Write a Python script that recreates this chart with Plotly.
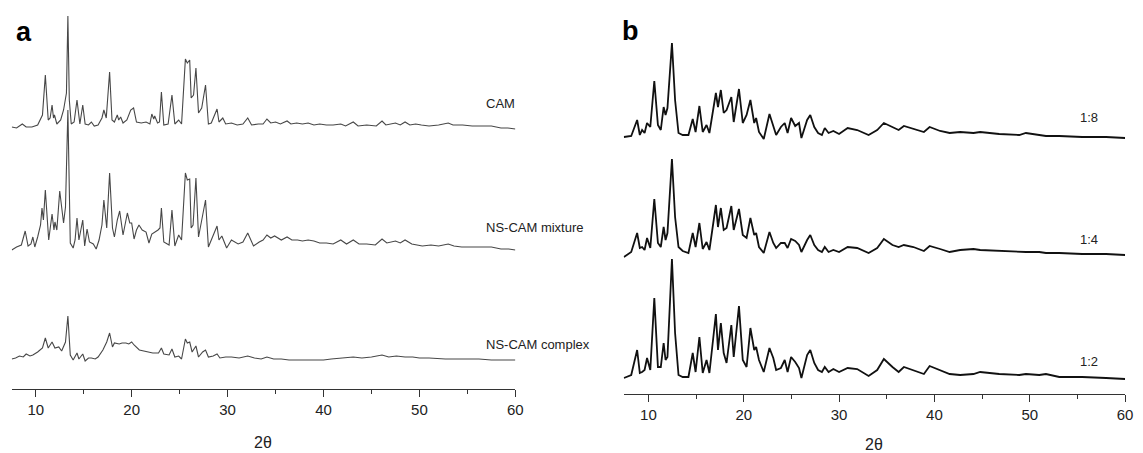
import plotly.graph_objects as go

W, H = 1143, 453

# ---------------- Panel a data (2θ, intensity a.u.) ----------------
cam_x = [7.5, 8.0, 8.6, 9.0, 9.6, 10.2, 10.7, 11.0, 11.3, 11.5, 11.7, 11.85, 11.95, 12.2, 12.6, 12.9,
         13.2, 13.35, 13.5, 13.7, 14.0, 14.3, 14.6, 14.9, 15.15, 15.5, 15.8, 16.1, 16.5, 16.9, 17.1,
         17.35, 17.7, 17.95, 18.2, 18.5, 18.65, 18.85, 19.1, 19.5, 19.9, 20.2, 20.5, 21.0, 21.5, 21.9,
         22.1, 22.3, 22.4, 22.7, 22.9, 23.1, 23.35, 23.8, 24.2, 24.5, 24.9, 25.2, 25.6, 25.8, 26.05,
         26.2, 26.45, 26.7, 26.97, 27.3, 27.7, 28.0, 28.3, 28.9, 29.1, 29.5, 29.8, 30.4, 31.0, 31.6,
         32.1, 32.5, 33.2, 33.7, 34.1, 34.5, 35.0, 35.5, 36.2, 36.6, 37.2, 37.8, 38.4, 39.0, 39.6,
         40.3, 41.0, 41.8, 42.3, 43.1, 43.6, 44.5, 45.5, 46.1, 46.5, 47.0, 47.5, 48.0, 48.5, 49.0,
         49.6, 50.2, 51.0, 52.0, 53.0, 53.5, 54.5, 55.5, 56.5, 57.5, 58.5, 59.2, 60.0]
cam_y = [2, 1, 5, 2, 2, 4, 14, 54, 9, 11, 24, 11, 14, 5, 9, 19,
         36, 113, 29, 5, 7, 29, 5, 24, 5, 4, 7, 3, 4, 11, 19,
         11, 57, 9, 7, 14, 9, 12, 6, 9, 19, 21, 7, 6, 7, 5,
         15, 10, 13, 6, 7, 37, 4, 5, 34, 5, 9, 5, 70, 66, 69,
         31, 34, 61, 16, 21, 44, 5, 6, 20, 7, 11, 5, 6, 4, 5,
         11, 4, 5, 5, 10, 6, 7, 5, 8, 5, 6, 5, 6, 4, 5,
         4, 4, 5, 3, 7, 3, 4, 3, 8, 4, 5, 6, 4, 7, 4,
         5, 4, 3, 4, 6, 4, 4, 3, 3, 3, 1, 1, 0]

mix_x = [7.5, 8.0, 8.5, 8.9, 9.2, 9.5, 9.7, 9.9, 10.2, 10.5, 10.65, 10.8, 11.0, 11.35, 11.7, 11.9,
         12.0, 12.2, 12.5, 12.9, 13.1, 13.35, 13.6, 13.9, 14.1, 14.3, 14.5, 14.9, 15.1, 15.35, 15.6,
         16.0, 16.3, 16.6, 16.9, 17.1, 17.4, 17.7, 18.0, 18.2, 18.5, 18.75, 19.1, 19.55, 19.8, 20.0,
         20.25, 20.5, 20.76, 21.1, 21.5, 21.8, 22.1, 22.5, 22.75, 22.95, 23.1, 23.35, 23.9, 24.2,
         24.5, 24.9, 25.2, 25.6, 25.8, 26.05, 26.2, 26.4, 26.7, 26.97, 27.3, 27.7, 28.0, 28.3, 28.9,
         29.1, 29.4, 29.9, 30.4, 31.1, 31.6, 32.1, 32.7, 33.3, 33.7, 34.1, 34.5, 34.9, 35.6, 36.2,
         36.7, 37.3, 37.8, 38.4, 39.0, 39.6, 40.3, 41.0, 41.8, 42.4, 43.1, 43.7, 44.5, 45.4, 46.1,
         46.6, 47.5, 48.0, 48.5, 49.2, 50.3, 51.2, 52.0, 53.0, 53.6, 54.4, 55.3, 56.3, 57.5, 58.5,
         59.3, 60.0]
mix_y = [0, 3, 5, 19, 4, 6, 13, 3, 13, 25, 42, 30, 60, 10, 36, 20,
         28, 20, 59, 27, 43, 140, 7, 2, 10, 32, 10, 30, 4, 21, 8,
         6, 1, 10, 25, 50, 22, 77, 22, 13, 30, 39, 15, 37, 27, 27,
         11, 20, 25, 20, 18, 7, 16, 18, 20, 22, 42, 8, 5, 40,
         4, 15, 10, 77, 70, 71, 22, 25, 72, 13, 30, 50, 3, 10, 24,
         10, 14, 2, 10, 6, 8, 17, 4, 8, 10, 15, 12, 14, 10, 13,
         10, 10, 9, 10, 9, 7, 7, 6, 10, 6, 10, 6, 6, 5, 11,
         7, 9, 7, 10, 6, 4, 5, 4, 6, 4, 3, 3, 3, 3, 1,
         1, 0]

cpx_x = [7.5, 7.9, 8.3, 8.7, 9.0, 9.4, 9.7, 10.2, 10.7, 11.0, 11.3, 11.7, 12.0, 12.4, 12.7, 13.1,
         13.35, 13.6, 13.9, 14.3, 14.5, 14.9, 15.15, 15.5, 15.8, 16.2, 16.5, 17.0, 17.4, 17.7, 18.0,
         18.2, 18.7, 19.0, 19.4, 19.7, 20.0, 20.25, 20.8, 21.2, 21.5, 22.2, 22.8, 23.1, 23.35, 23.9,
         24.2, 24.5, 24.9, 25.2, 25.6, 25.8, 26.05, 26.3, 26.7, 26.97, 27.4, 27.7, 28.0, 28.5, 28.9,
         29.2, 29.8, 30.4, 31.2, 32.1, 32.8, 33.5, 34.1, 34.8, 35.6, 36.4, 37.3, 38.2, 39.0, 40.0,
         40.8, 41.8, 42.5, 43.1, 44.0, 45.0, 46.1, 46.8, 47.6, 48.5, 49.3, 50.0, 51.0, 52.0, 52.7,
         53.8, 55.0, 56.2, 57.5, 58.8, 60.0]
cpx_y = [2, 3, 5, 4, 7, 5, 6, 9, 13, 23, 13, 19, 13, 14, 10, 19,
         45, 6, 1, 8, 2, 7, 0, 3, 3, 2, 4, 11, 19, 28, 14,
         18, 17, 18, 18, 17, 19, 16, 11, 10, 9, 8, 8, 13, 7, 6,
         12, 4, 5, 2, 22, 18, 19, 9, 15, 4, 9, 11, 4, 5, 7,
         3, 4, 4, 3, 5, 3, 2, 4, 2, 2, 1, 1, 1, 1, 1,
         2, 3, 3, 4, 3, 4, 6, 4, 5, 4, 4, 3, 3, 2, 2,
         2, 2, 2, 1, 1, 1]

# ---------------- Panel b data ----------------
b_x = [7.43, 8.2, 8.82, 9.1, 9.34, 9.6, 9.86, 10.2, 10.62, 11.0, 11.3, 11.6, 11.8, 12.0, 12.47, 12.8,
       13.16, 13.6, 14.2, 14.65, 14.95, 15.35, 15.7, 16.1, 16.4, 17.08, 17.3, 17.6, 17.9, 18.2, 18.7,
       18.95, 19.5, 19.9, 20.3, 20.7, 21.1, 21.3, 21.6, 22.1, 22.7, 23.1, 23.4, 23.9, 24.3, 24.6,
       24.97, 25.4, 25.8, 26.05, 26.65, 26.98, 27.4, 27.8, 28.2, 28.5, 28.9, 29.4, 30.0, 30.9, 31.9,
       33.1, 34.0, 34.7, 35.6, 36.25, 36.8, 37.8, 38.9, 39.5, 40.6, 41.6, 42.7, 44.1, 44.8, 46.8,
       48.9, 49.6, 51.0, 51.7, 53.1, 55.5, 58.0, 60.0]
r18_y = [1, 2, 18, 3, 8, 5, 15, 11, 57, 13, 8, 31, 23, 30, 95, 38,
         5, 3, 3, 19, 6, 32, 6, 13, 5, 45, 31, 48, 25, 28, 41,
         16, 49, 15, 23, 38, 15, 20, 6, -1, 24, 11, 3, 11, 15, 5,
         20, 12, 15, 0, 18, 23, 11, 5, 3, 10, 5, 7, 4, 10, 8,
         3, 8, 15, 11, 8, 12, 9, 6, 11, 7, 5, 6, 5, 6, 4,
         3, 5, 3, 2, 2, 1, 1, 0]
r14_y = [0, 5, 24, 9, 10, 7, 19, 9, 58, 14, 10, 30, 17, 24, 98, 40,
         10, 6, 4, 24, 10, 34, 8, 15, 7, 52, 30, 49, 27, 29, 51,
         27, 48, 22, 19, 39, 22, 24, 10, 4, 25, 14, 9, 14, 14, 9,
         18, 16, 12, 5, 17, 22, 12, 7, 5, 10, 5, 7, 5, 10, 9,
         4, 9, 18, 12, 10, 12, 10, 6, 11, 8, 5, 7, 8, 7, 6,
         5, 5, 5, 4, 4, 3, 3, 2]
r12_y = [1, 4, 29, 6, 7, 9, 21, 9, 81, 12, 12, 36, 19, 22, 120, 46,
         4, 2, 2, 26, 7, 42, 6, 19, 6, 65, 29, 56, 26, 16, 54,
         22, 73, 19, 12, 51, 29, 32, 19, 7, 31, 21, 9, 11, 19, 7,
         22, 17, 11, 1, 24, 29, 16, 9, 7, 12, 7, 10, 7, 11, 10,
         3, 9, 20, 12, 7, 12, 9, 5, 13, 9, 5, 4, 5, 7, 5,
         4, 5, 4, 5, 2, 2, 1, 0]

tick_vals = [10, 20, 30, 40, 50, 60]
tick_text = ["10", "20", "30", "40", "50", "60"]

panel_a_names = ["CAM", "NS-CAM mixture", "NS-CAM complex"]
panel_b_names = ["1:8", "1:4", "1:2"]

# ---------------- layout helpers ----------------
def fx(px):
    return px / W

def fy(py):
    return 1 - py / H

AXIS_A, AXIS_B = 389, 394
off_a = [260, 139, 28]
off_b = [256, 137, 15]

fig = go.Figure()
for xs, ys, off in zip([cam_x, mix_x, cpx_x], [cam_y, mix_y, cpx_y], off_a):
    fig.add_trace(go.Scatter(x=xs, y=[v + off for v in ys], mode="lines",
                             line=dict(color="#474747", width=1.1), xaxis="x", yaxis="y",
                             showlegend=False, hoverinfo="skip"))
for ys, off in zip([r18_y, r14_y, r12_y], off_b):
    fig.add_trace(go.Scatter(x=b_x, y=[v + off for v in ys], mode="lines",
                             line=dict(color="#111111", width=1.8), xaxis="x2", yaxis="y2",
                             showlegend=False, hoverinfo="skip"))

axis_common = dict(showline=True, linecolor="#333", linewidth=1.2, ticks="outside", ticklen=7,
                   tickcolor="#333", tickwidth=1.2, tickvals=tick_vals, ticktext=tick_text,
                   showgrid=False, zeroline=False,
                   minor=dict(dtick=5, tick0=0, ticks="outside", ticklen=4, tickcolor="#333", tickwidth=1.2),
                   tickfont=dict(family="Arial, Liberation Sans, sans-serif", size=15, color="#222"))

fig.update_layout(
    width=W, height=H, margin=dict(l=0, r=0, t=0, b=0),
    paper_bgcolor="white", plot_bgcolor="white",
    xaxis=dict(domain=[fx(11.85), fx(519)], range=[7.5, 60], anchor="y", **axis_common),
    xaxis2=dict(domain=[fx(628), fx(1133)], range=[7.4, 60], anchor="y2", **axis_common),
    yaxis=dict(domain=[fy(AXIS_A), 1], range=[0, AXIS_A], visible=False),
    yaxis2=dict(domain=[fy(AXIS_B), 1], range=[0, AXIS_B], visible=False),
)

ann_font = dict(family="Arial, Liberation Sans, sans-serif", color="#222")
label_pos_a = [103, 227, 344]
for name, ypx in zip(panel_a_names, label_pos_a):
    fig.add_annotation(x=fx(487), y=fy(ypx), xref="paper", yref="paper", text=name, showarrow=False,
                       xanchor="left", yanchor="middle", font=dict(size=13, **ann_font))
label_pos_b = [117, 239, 361]
for name, ypx in zip(panel_b_names, label_pos_b):
    fig.add_annotation(x=fx(1097), y=fy(ypx), xref="paper", yref="paper", text=name, showarrow=False,
                       xanchor="center", yanchor="middle", font=dict(size=13, **ann_font))

fig.add_annotation(x=fx(14), y=fy(32), xref="paper", yref="paper", text="<b>a</b>", showarrow=False,
                   xanchor="left", yanchor="middle", font=dict(size=27, family="Arial, Liberation Sans, sans-serif", color="black"))
fig.add_annotation(x=fx(624), y=fy(31), xref="paper", yref="paper", text="<b>b</b>", showarrow=False,
                   xanchor="left", yanchor="middle", font=dict(size=27, family="Arial, Liberation Sans, sans-serif", color="black"))
fig.add_annotation(x=fx(265), y=fy(442), xref="paper", yref="paper", text="2θ", showarrow=False,
                   xanchor="center", yanchor="middle", font=dict(size=16, **ann_font))
fig.add_annotation(x=fx(880), y=fy(444), xref="paper", yref="paper", text="2θ", showarrow=False,
                   xanchor="center", yanchor="middle", font=dict(size=16, **ann_font))

fig.write_html("out.html", config={"displayModeBar": False},
               post_script="document.body.style.margin='0';document.body.style.overflow='hidden';")
